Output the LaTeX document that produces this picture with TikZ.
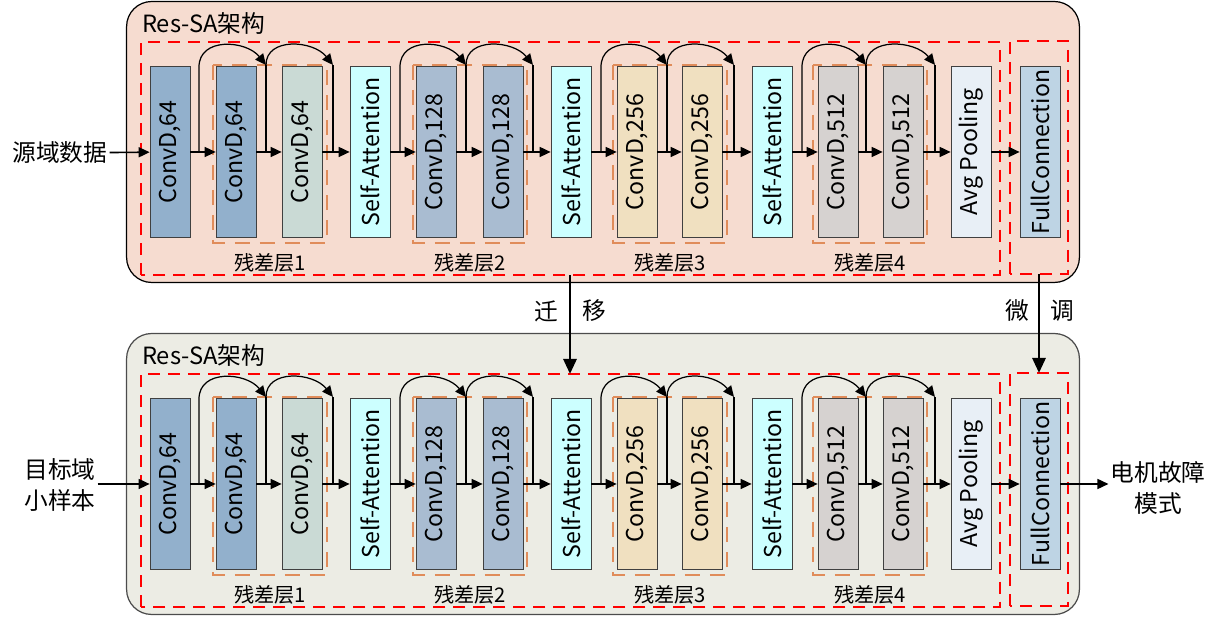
\documentclass[tikz,border=0pt]{standalone}
\usepackage{fontspec}
\usepackage{graphicx}
\setmainfont{Noto Sans CJK SC}
\usetikzlibrary{arrows.meta}

\definecolor{panelpeach}{HTML}{F6DCD0}
\definecolor{panelgray}{HTML}{ECECE4}
\definecolor{convblue}{HTML}{92B0CC}
\definecolor{convgreen}{HTML}{CADAD5}
\definecolor{sacyan}{HTML}{CCFFFF}
\definecolor{convmid}{HTML}{A9BCD1}
\definecolor{convwheat}{HTML}{F0E0C0}
\definecolor{convgray}{HTML}{D6D2D0}
\definecolor{poolcol}{HTML}{E8EFF6}
\definecolor{fccol}{HTML}{BED4E4}
\definecolor{resorange}{HTML}{E08C5A}

\begin{document}
\begin{tikzpicture}[x=0.02cm, y=-0.02cm,
        >={Triangle[length=2.2mm,width=2mm]},
        panel/.style={draw, line width=0.7pt, rounded corners=0.5cm, minimum width=19.06cm, minimum height=5.62cm},
        redline/.style={draw=red, dash pattern=on 2.4mm off 1.6mm, line width=1pt},
        resline/.style={draw=resorange, dash pattern=on 3mm off 2mm, line width=1pt},
        block/.style={draw=black!75, inner sep=0pt, minimum width=0.8cm, minimum height=3.42cm, font=\fontsize{13.2}{15}\selectfont},
        txt/.style={font=\fontsize{13.5}{18}\selectfont, inner sep=1pt, align=center},
        reslabel/.style={font=\fontsize{11.5}{14}\selectfont},
        mainline/.style={line width=0.9pt},
        skipline/.style={line width=0.7pt}]
    \useasboundingbox (0,0) rectangle (1215,617);

    \foreach \r/\y/\bg/\bd in {a/0/panelpeach/black, b/332/panelgray/black!70} {
        \node[panel, fill=\bg, draw=\bd] (panel\r) at (603,142+\y) {};
        \node[txt, anchor=west] (title\r) at (140,24+\y) {Res-SA架构};
        % red dashed frames
        \coordinate (mainsw\r) at (141,275+\y);
        \coordinate (mainne\r) at (1000,42+\y);
        \coordinate (fcsw\r) at (1010,274+\y);
        \coordinate (fcne\r) at (1068,41+\y);
        \coordinate (mainbot\r) at (570,275+\y);
        \coordinate (maintop\r) at (570,42+\y);
        \coordinate (fcbot\r) at (1039,274+\y);
        \coordinate (fctop\r) at (1039,41+\y);
        \draw[redline] (mainsw\r) rectangle (mainne\r);
        \draw[redline] (fcsw\r) rectangle (fcne\r);
        \foreach \g/\x in {1/270, 2/470, 3/670, 4/870} {
            \draw[resline] (\x-57,65+\y) rectangle (\x+57,243+\y);
            \node[reslabel] (lab\g\r) at (\x,263+\y) {残差层\g};
        }

        \node[block, fill=convblue] (c1\r) at (170,152+\y) {\rotatebox{90}{ConvD,64}};
        \node[block, fill=convblue] (c2\r) at (236,152+\y) {\rotatebox{90}{ConvD,64}};
        \node[block, fill=convgreen] (c3\r) at (302,152+\y) {\rotatebox{90}{ConvD,64}};
        \node[block, fill=sacyan] (sa1\r) at (370,152+\y) {\rotatebox{90}{Self-Attention}};
        \node[block, fill=convmid] (c4\r) at (436,152+\y) {\rotatebox{90}{ConvD,128}};
        \node[block, fill=convmid] (c5\r) at (503,152+\y) {\rotatebox{90}{ConvD,128}};
        \node[block, fill=sacyan] (sa2\r) at (571,152+\y) {\rotatebox{90}{Self-Attention}};
        \node[block, fill=convwheat] (c6\r) at (637,152+\y) {\rotatebox{90}{ConvD,256}};
        \node[block, fill=convwheat] (c7\r) at (702,152+\y) {\rotatebox{90}{ConvD,256}};
        \node[block, fill=sacyan] (sa3\r) at (772,152+\y) {\rotatebox{90}{Self-Attention}};
        \node[block, fill=convgray] (c8\r) at (838,152+\y) {\rotatebox{90}{ConvD,512}};
        \node[block, fill=convgray] (c9\r) at (903,152+\y) {\rotatebox{90}{ConvD,512}};
        \node[block, fill=poolcol] (pool\r) at (971,152+\y) {\rotatebox{90}{Avg Pooling}};
        \node[block, fill=fccol] (fc\r) at (1040,152+\y) {\rotatebox{90}{FullConnection}};

        \path[->, mainline]
        (c1\r) edge (c2\r)
        (c2\r) edge (c3\r)
        (c3\r) edge (sa1\r)
        (sa1\r) edge (c4\r)
        (c4\r) edge (c5\r)
        (c5\r) edge (sa2\r)
        (sa2\r) edge (c6\r)
        (c6\r) edge (c7\r)
        (c7\r) edge (sa3\r)
        (sa3\r) edge (c8\r)
        (c8\r) edge (c9\r)
        (c9\r) edge (pool\r)
        (pool\r) edge (fc\r)
        ;

        % residual shortcuts
        \foreach \g/\s/\m/\e in {1/199/266/333, 2/400/466/533, 3/601/667/734, 4/802/866/935} {
            \coordinate (s\g\r) at (\s,152+\y);
            \coordinate (st\g\r) at (\s,67+\y);
            \coordinate (m\g\r) at (\m,152+\y);
            \coordinate (mt\g\r) at (\m,65+\y);
            \coordinate (e\g\r) at (\e,152+\y);
            \coordinate (et\g\r) at (\e,65+\y);
            \draw[->, skipline] (s\g\r) -- (st\g\r) .. controls +(0,-30) and +(-20,-25) .. (mt\g\r);
            \draw[skipline] (mt\g\r) -- (m\g\r);
            \draw[->, skipline] (mt\g\r) .. controls +(0,-28) and +(-20,-25) .. (et\g\r);
            \draw[skipline] (et\g\r) -- (e\g\r);
        }
    }

    \node[txt] (src) at (60,153) {源域数据};
    \node[txt] (tgt) at (60,485) {目标域\\小样本};
    \node[txt] (out) at (1158,488) {电机故障\\模式};
    \draw[->, mainline] (src) -- (c1a);
    \draw[->, mainline] (tgt.east |- c1b) -- (c1b);
    \draw[->, mainline] (fcb) -- (fcb -| out.west);

    \draw[-{Triangle[length=3mm,width=2.6mm]}, line width=1.6pt] (mainbota) -- (maintopb);
    \draw[-{Triangle[length=3mm,width=2.6mm]}, line width=1.6pt] (fcbota) -- (fctopb);
    \node[txt] (move1) at (546,311) {迁};
    \node[txt] (move2) at (594,311) {移};
    \node[txt] (tune1) at (1017,311) {微};
    \node[txt] (tune2) at (1062,311) {调};
\end{tikzpicture}
\end{document}
